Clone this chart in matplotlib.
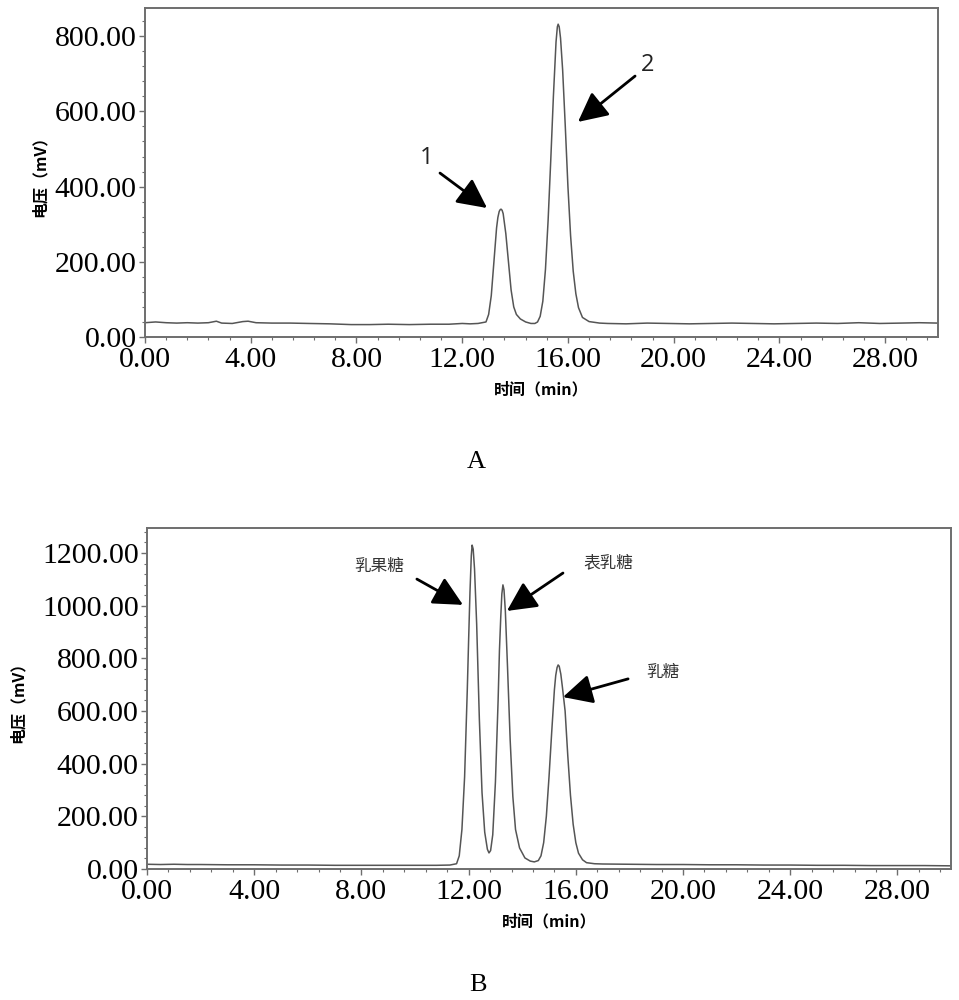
import matplotlib
matplotlib.use("Agg")
import matplotlib.pyplot as plt
from matplotlib.ticker import MultipleLocator, FormatStrFormatter

# Panel A chromatogram (time in min, signal in mV)
time_a = [0.0, 0.4, 0.8, 1.2, 1.6, 2.0, 2.4, 2.7, 2.9, 3.3, 3.7, 3.9, 4.2, 4.8,
          5.5, 6.2, 7.0, 7.8, 8.5, 9.2, 10.0, 10.8, 11.5, 12.0, 12.3, 12.6,
          12.9, 13.0, 13.1, 13.2, 13.3, 13.35, 13.4, 13.44, 13.47, 13.51, 13.55,
          13.65, 13.75, 13.85, 13.95, 14.05, 14.2, 14.4, 14.6, 14.75, 14.85,
          14.95, 15.05, 15.15, 15.25, 15.35, 15.45, 15.55, 15.6, 15.63, 15.67,
          15.72, 15.8, 15.9, 16.0, 16.1, 16.2, 16.3, 16.4, 16.55, 16.8, 17.2,
          17.5, 18.2, 19.0, 19.8, 20.6, 21.4, 22.2, 23.0, 23.8, 24.6, 25.4,
          26.2, 27.0, 27.8, 28.6, 29.3, 30.0]
signal_a = [38, 40, 38, 37, 38, 37, 38, 42, 37, 36, 41, 42, 38, 37,
            37, 36, 35, 33, 33, 34, 33, 34, 34, 36, 35, 36,
            40, 60, 110, 200, 290, 318, 334, 339, 340, 337, 328,
            275, 200, 125, 80, 60, 48, 40, 36, 36, 40,
            55, 95, 180, 310, 470, 640, 785, 825, 832, 825,
            795, 710, 560, 400, 270, 175, 115, 78, 52, 41, 37,
            36, 35, 37, 36, 35, 36, 37, 36, 35, 36, 37,
            36, 38, 36, 37, 38, 37]

# Panel B chromatogram
time_b = [0.0, 0.5, 1.0, 1.5, 2.0, 3.0, 4.0, 5.0, 6.0, 7.0, 8.0, 9.0, 10.0,
          10.8, 11.3, 11.55, 11.65, 11.75, 11.85, 11.95, 12.0, 12.05, 12.1,
          12.13, 12.17, 12.22, 12.3, 12.4, 12.5, 12.6, 12.7, 12.76, 12.82,
          12.9, 13.0, 13.1, 13.15, 13.2, 13.24, 13.28, 13.32, 13.37, 13.45,
          13.55, 13.65, 13.75, 13.9, 14.1, 14.3, 14.45, 14.6, 14.7, 14.8, 14.9,
          15.0, 15.1, 15.2, 15.25, 15.3, 15.34, 15.38, 15.44, 15.5, 15.6, 15.7,
          15.8, 15.9, 16.0, 16.1, 16.25, 16.4, 16.7, 17.0, 18.0, 19.0, 20.0,
          21.0, 22.0, 23.0, 24.0, 25.0, 26.0, 27.0, 28.0, 29.0, 30.0]
signal_b = [18, 17, 18, 17, 17, 16, 16, 15, 15, 14, 14, 14, 14,
            14, 15, 20, 50, 150, 350, 680, 870, 1050, 1190,
            1230, 1215, 1140, 930, 570, 290, 140, 75, 61, 70,
            130, 330, 640, 830, 960, 1045, 1079, 1060, 980, 770,
            490, 275, 150, 80, 42, 30, 27, 32, 50, 100, 200,
            350, 520, 680, 735, 765, 775, 770, 740, 690, 600, 430,
            280, 170, 100, 60, 35, 24, 20, 19, 18, 17, 17,
            16, 16, 15, 15, 14, 14, 13, 13, 13, 12]

labels_a = ["1", "2"]
labels_b = ["乳果糖", "表乳糖", "乳糖"]

serif = "Liberation Serif"
cjk = ["Noto Sans CJK SC", "DejaVu Sans"]
line_col = "#555555"
spine_col = "#6e6e6e"

fig = plt.figure(figsize=(9.59, 10), dpi=100)
ax1 = fig.add_axes([0.1512, 0.663, 0.8269, 0.329])
ax2 = fig.add_axes([0.1533, 0.131, 0.8384, 0.341])


def style(ax, ymax, ystep):
    ax.set_xlim(0, 30)
    ax.set_ylim(0, ymax)
    ax.xaxis.set_major_locator(MultipleLocator(4))
    ax.xaxis.set_minor_locator(MultipleLocator(0.8))
    ax.yaxis.set_major_locator(MultipleLocator(ystep))
    ax.yaxis.set_minor_locator(MultipleLocator(ystep / 5))
    ax.xaxis.set_major_formatter(FormatStrFormatter("%.2f"))
    ax.yaxis.set_major_formatter(FormatStrFormatter("%.2f"))
    ax.tick_params(which="major", direction="out", length=4, width=1,
                   color=spine_col, labelsize=21.5, pad=2)
    ax.tick_params(which="minor", direction="out", length=2.5, width=0.8,
                   color=spine_col)
    ax.tick_params(axis="x", pad=3)
    for lab in ax.get_xticklabels() + ax.get_yticklabels():
        lab.set_family(serif)
    for s in ax.spines.values():
        s.set_color(spine_col)
        s.set_linewidth(1.4)
    ax.set_ylabel("电压（mV）", family=cjk, fontsize=11.5, fontweight="bold",
                  labelpad=5)
    ax.set_xlabel("时间（min）", family=cjk, fontsize=11.5, fontweight="bold",
                  labelpad=6)


arrow = dict(arrowstyle="-|>,head_length=1.0,head_width=0.5", lw=2,
             color="black", shrinkA=0, shrinkB=0, mutation_scale=18)

# Panel A
ax1.plot(time_a, signal_a, color=line_col, lw=1.1)
style(ax1, 875, 200)
ax1.annotate("", xy=(12.94, 343), xytext=(11.16, 436), arrowprops=arrow)
ax1.annotate("", xy=(16.38, 572), xytext=(18.54, 694), arrowprops=arrow)
ax1.text(10.67, 476, labels_a[0], fontsize=17, family="Open Sans",
         ha="center", va="center", color="#222222")
ax1.text(19.03, 723, labels_a[1], fontsize=17, family="Open Sans",
         ha="center", va="center", color="#222222")

# Panel B
ax2.plot(time_b, signal_b, color=line_col, lw=1.1)
style(ax2, 1295, 200)
ax2.yaxis.labelpad = 12
ax2.annotate("", xy=(11.79, 1003), xytext=(10.07, 1101), arrowprops=arrow)
ax2.annotate("", xy=(13.43, 980), xytext=(15.52, 1124), arrowprops=arrow)
ax2.annotate("", xy=(15.52, 653), xytext=(17.95, 722), arrowprops=arrow)
ax2.text(8.66, 1147, labels_b[0], fontsize=12, family=cjk, ha="center",
         va="center", color="#333333")
ax2.text(17.2, 1162, labels_b[1], fontsize=12, family=cjk, ha="center",
         va="center", color="#333333")
ax2.text(19.25, 748, labels_b[2], fontsize=12, family=cjk, ha="center",
         va="center", color="#333333")

fig.text(476 / 959, 1 - 462 / 1000, "A", family=serif, fontsize=19,
         ha="center", va="center")
fig.text(478 / 959, 1 - 985 / 1000, "B", family=serif, fontsize=19,
         ha="center", va="center")

fig.savefig("out.png", dpi=100)
